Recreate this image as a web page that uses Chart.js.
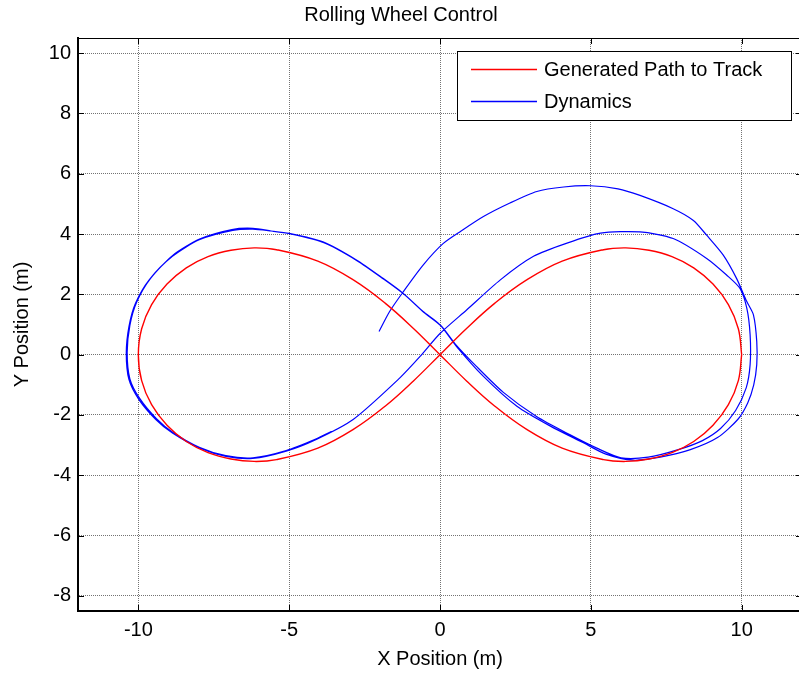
<!DOCTYPE html>
<html>
<head>
<meta charset="utf-8">
<script src="https://cdn.jsdelivr.net/npm/chart.js@4"></script>
<style>
html, body { margin: 0; padding: 0; overflow: hidden; background: #fff; }
#wrap { position: relative; width: 803px; height: 675px; }
canvas { display: block; }
</style>
</head>
<body>
<div id="wrap"><canvas id="c" width="803" height="675"></canvas></div>
<script>
// ---- Data ----
const chartTitle = 'Rolling Wheel Control';
const xAxisTitle = 'X Position (m)';
const yAxisTitle = 'Y Position (m)';
const seriesNames = ['Generated Path to Track', 'Dynamics'];
const seriesColors = ['#ff0000', '#0000ff'];
const xTicks = [-10, -5, 0, 5, 10];
const yTicks = [-8, -6, -4, -2, 0, 2, 4, 6, 8, 10];

// Generated path (red)
const pathX = [10, 9.89, 9.56, 9.05, 8.41, 7.69, 6.93, 6.16, 5.42, 4.05, 2.86, 1.82, 0.88, 0,
  -0.88, -1.82, -2.86, -4.05, -5.42, -6.16, -6.93, -7.69, -8.41, -9.05, -9.56, -9.89, -10,
  -9.89, -9.56, -9.05, -8.41, -7.69, -6.93, -6.16, -5.42, -4.05, -2.86, -1.82, -0.88, 0,
  0.88, 1.82, 2.86, 4.05, 5.42, 6.16, 6.93, 7.69, 8.41, 9.05, 9.56, 9.89, 10];
const pathY = [0, 0.86, 1.66, 2.34, 2.88, 3.25, 3.46, 3.54, 3.48, 3.10, 2.47, 1.71, 0.87, 0,
  -0.87, -1.71, -2.47, -3.10, -3.48, -3.54, -3.46, -3.25, -2.88, -2.34, -1.66, -0.86, 0,
  0.86, 1.66, 2.34, 2.88, 3.25, 3.46, 3.54, 3.48, 3.10, 2.47, 1.71, 0.87, 0,
  -0.87, -1.71, -2.47, -3.10, -3.48, -3.54, -3.46, -3.25, -2.88, -2.34, -1.66, -0.86, 0];

// Dynamics (blue)
const dynX = [
  // start and outer right arc
  -2.02, -1.67, -1.23, -0.56, 0.1, 0.7, 1.44, 2.3, 3.21, 4.1, 4.99, 5.9, 6.63, 7.73, 8.4, 8.84, 9.39, 9.83, 10.17, 10.39, 10.5, 10.5, 10.4, 10.2, 9.87, 9.2, 8.3, 7.3, 6.4,
  // diagonal up-left, first left loop
  5.5, 4.77, 3.66, 2.55, 1.44, 0.55, 0, -0.56, -1.23, -1.89, -2.77, -3.88, -4.99, -5.6, -6.21, -6.87, -7.98, -8.87, -9.64, -10.09, -10.31, -10.4, -10.31, -9.98, -9.42, -8.87, -7.98, -7.09, -6.21, -5.1, -4.1, -2.88, -1.33, -0.66,
  // diagonal up-right, inner right loop
  0, 0.89, 2.0, 3.1, 4.21, 5.32, 6.63, 7.73, 8.84, 9.5, 9.94, 10.17, 10.28, 10.28, 10.15, 9.8, 9.3, 8.7, 7.9, 6.9, 6.0,
  // second diagonal up-left and second left loop
  5.2, 4.3, 3.2, 2.1, 1.2, 0.5, 0.04, -0.53, -1.2, -1.86, -2.74, -3.85, -4.95, -5.6, -6.2, -6.9, -7.95, -8.85, -9.6, -10.05, -10.28, -10.37, -10.28, -9.95, -9.4, -8.85, -7.98, -7.1, -6.2, -5.1, -4.1, -3.6];
const dynY = [
  0.77, 1.43, 2.07, 2.97, 3.68, 4.1, 4.58, 5.02, 5.41, 5.56, 5.6, 5.5, 5.28, 4.84, 4.45, 3.96, 3.3, 2.53, 1.76, 1.32, 0.44, -0.33, -1.0, -1.6, -2.15, -2.75, -3.15, -3.4, -3.5,
  -3.3, -2.93, -2.37, -1.71, -0.72, 0.27, 0.99, 1.43, 2.04, 2.53, 3.14, 3.74, 4.02, 4.1, 4.16, 4.12, 3.81, 3.26, 2.48, 1.71, 0.94, 0.05, -0.83, -1.49, -2.15, -2.6, -3.09, -3.37, -3.44, -3.2, -2.81, -2.15, -0.77, -0.06,
  0.7, 1.49, 2.48, 3.26, 3.7, 4.03, 4.07, 3.85, 3.19, 2.64, 2.2, 1.54, 0.66, -0.33, -1.1, -1.85, -2.45, -2.85, -3.15, -3.4, -3.42,
  -3.1, -2.65, -2.05, -1.25, -0.38, 0.36, 0.95, 1.4, 2.01, 2.5, 3.11, 3.71, 4.0, 4.1, 4.19, 4.15, 3.84, 3.3, 2.52, 1.75, 0.97, 0.08, -0.8, -1.46, -2.12, -2.58, -3.07, -3.35, -3.42, -3.18, -2.79, -2.55];

// ---- Build chart ----
const FONT = '"Liberation Sans", Arial, sans-serif';
const toPts = (xs, ys) => xs.map((x, i) => ({x: x, y: ys[i]}));
const setTicks = vals => s => { s.ticks = vals.map(v => ({value: v})); };

const matlabFrame = {
  id: 'matlabFrame',
  afterDatasetsDraw(chart) {
    const ctx = chart.ctx, a = chart.chartArea;
    const xs = chart.scales.x, ys = chart.scales.y;
    ctx.save();
    ctx.setLineDash([]);
    ctx.strokeStyle = '#000';
    ctx.lineWidth = 1;
    ctx.beginPath();
    ctx.moveTo(a.left, a.top + 0.5); ctx.lineTo(a.right, a.top + 0.5);
    ctx.moveTo(a.right - 0.5, a.top); ctx.lineTo(a.right - 0.5, a.bottom);
    xs.ticks.forEach(t => {
      const px = Math.round(xs.getPixelForValue(t.value)) + 0.5;
      ctx.moveTo(px, a.bottom); ctx.lineTo(px, a.bottom - 6);
      ctx.moveTo(px, a.top); ctx.lineTo(px, a.top + 6);
    });
    ys.ticks.forEach(t => {
      const py = Math.round(ys.getPixelForValue(t.value)) + 0.5;
      ctx.moveTo(a.left, py); ctx.lineTo(a.left + 6, py);
      ctx.moveTo(a.right, py); ctx.lineTo(a.right - 6, py);
    });
    ctx.stroke();

    // legend box
    const L = 457.5, T = 51.5, R = 791.5, B = 120.5;
    ctx.fillStyle = '#fff';
    ctx.fillRect(L, T, R - L, B - T);
    ctx.strokeStyle = '#000';
    ctx.strokeRect(L, T, R - L, B - T);
    ctx.font = '20px ' + FONT;
    ctx.textBaseline = 'middle';
    ctx.textAlign = 'left';
    const rows = [69, 101];
    seriesNames.forEach((name, i) => {
      ctx.fillStyle = seriesColors[i];
      ctx.fillRect(471, rows[i] - 0.25, 66, 1.5);
      ctx.fillStyle = '#000';
      ctx.fillText(name, 544, rows[i] + 1.5);
    });
    ctx.restore();
  }
};

new Chart(document.getElementById('c'), {
  type: 'scatter',
  data: {
    datasets: [
      { label: seriesNames[0], data: toPts(pathX, pathY), borderColor: seriesColors[0], borderWidth: 1.4,
        showLine: true, pointRadius: 0, tension: 0.4, fill: false },
      { label: seriesNames[1], data: toPts(dynX, dynY), borderColor: seriesColors[1], borderWidth: 1.2,
        showLine: true, pointRadius: 0, tension: 0.25, fill: false }
    ]
  },
  options: {
    responsive: false,
    animation: false,
    devicePixelRatio: 1,
    layout: { padding: { left: 0, right: 1, top: 0, bottom: 0 } },
    plugins: {
      legend: { display: false },
      tooltip: { enabled: false },
      title: { display: true, text: chartTitle, color: '#000',
        font: { family: FONT, size: 20, weight: 'normal', lineHeight: 1.2 },
        padding: { top: 3, bottom: 11 } }
    },
    scales: {
      x: {
        type: 'linear', min: -12, max: 12,
        afterBuildTicks: setTicks(xTicks),
        afterFit: s => { s.height = 64; },
        ticks: { color: '#000', padding: 7, maxRotation: 0, autoSkip: false,
          font: { family: FONT, size: 20 } },
        grid: { color: 'rgba(0,0,0,0.55)', lineWidth: 1, drawTicks: false },
        border: { display: true, color: '#000', width: 2, dash: [1, 1] },
        title: { display: true, text: xAxisTitle, color: '#000',
          font: { family: FONT, size: 20 }, padding: { top: 0, bottom: 4 } }
      },
      y: {
        type: 'linear', min: -8.5, max: 10.5,
        afterBuildTicks: setTicks(yTicks),
        afterFit: s => { s.width = 78; },
        ticks: { color: '#000', padding: 7, autoSkip: false,
          font: { family: FONT, size: 20 } },
        grid: { color: 'rgba(0,0,0,0.55)', lineWidth: 1, drawTicks: false },
        border: { display: true, color: '#000', width: 2, dash: [1, 1] },
        title: { display: true, text: yAxisTitle, color: '#000',
          font: { family: FONT, size: 20 }, padding: { top: 10, bottom: 0 } }
      }
    }
  },
  plugins: [matlabFrame]
});
</script>
</body>
</html>
